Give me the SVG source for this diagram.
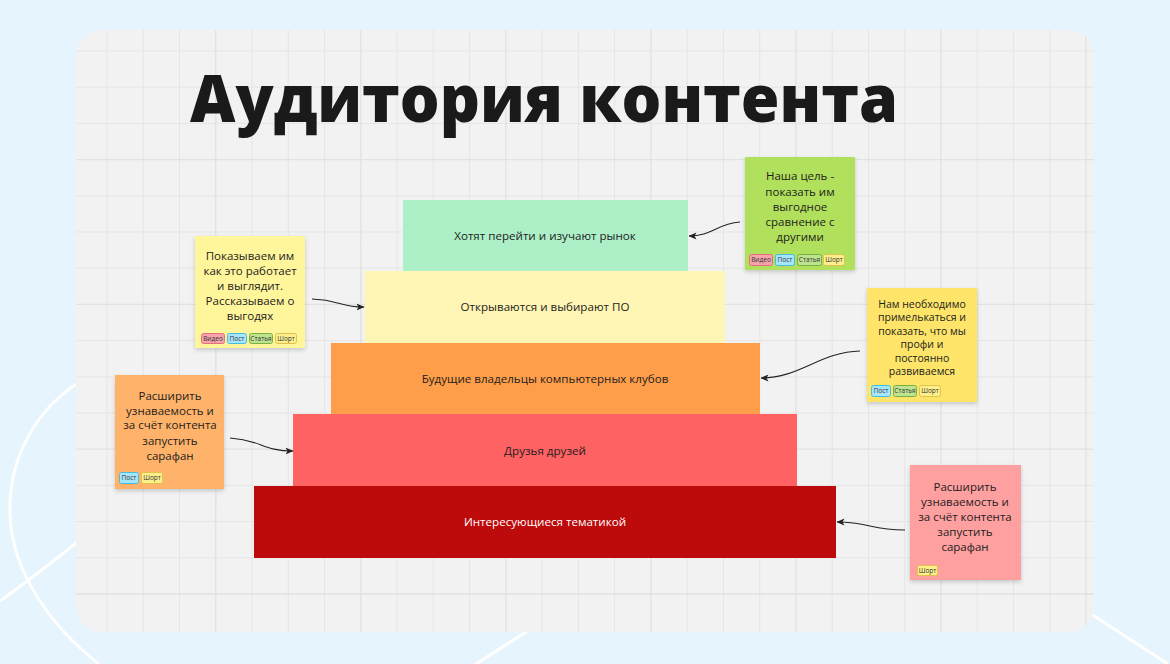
<svg xmlns="http://www.w3.org/2000/svg" width="1170" height="664" viewBox="0 0 1170 664">
<defs>
<style>
.grid{stroke:#e5e5e5;stroke-width:1;fill:none}
.gridb{stroke:#e1e1e1;stroke-width:1.3;fill:none}
.deco{stroke:#ffffff;stroke-width:3;fill:none}
.bar-t{font-family:"Open Sans","Noto Sans","Liberation Sans",sans-serif;font-size:11.6px;fill:#1d1d1d;text-anchor:middle}
.note-t{font-family:"Open Sans","Noto Sans","Liberation Sans",sans-serif;font-size:11.5px;fill:#1d1d1d;text-anchor:middle}
.note-s{font-family:"Open Sans","Noto Sans","Liberation Sans",sans-serif;font-size:10.5px;fill:#1d1d1d;text-anchor:middle}
.tag-t{font-family:"Open Sans","Noto Sans","Liberation Sans",sans-serif;font-size:6.5px;fill:#333;text-anchor:middle}
.t-video{fill:#f7a3ab;stroke:#e0707c;stroke-width:1}
.t-post{fill:#a6e6fa;stroke:#45bde3;stroke-width:1}
.t-stat{fill:#bde38f;stroke:#78b044;stroke-width:1}
.t-short{fill:#fdf08c;stroke:#e0c24a;stroke-width:1}
.conn{stroke:#222;stroke-width:1.1;fill:none}
</style>
<clipPath id="boardClip"><rect x="76" y="30" width="1018" height="602" rx="25"/></clipPath>
<filter id="sh" x="-10%" y="-10%" width="130%" height="130%"><feDropShadow dx="0" dy="2" stdDeviation="2" flood-color="#000" flood-opacity="0.18"/></filter>
<marker id="arr" viewBox="0 0 8 8" refX="7.5" refY="4" markerWidth="8" markerHeight="8" markerUnits="userSpaceOnUse" orient="auto">
<path d="M0,0.5 L8,4 L0,7.5 L2,4 Z" fill="#222"/>
</marker>
</defs>
<rect x="0" y="0" width="1170" height="664" fill="#e6f4fd"/>
<g id="decor">
<path class="deco" d="M90,376 C35,405 8,460 10,515 C12,575 55,630 99,664"/>
<path class="deco" d="M0,601 C30,580 55,560 90,532"/>
<path class="deco" d="M532,628 L476,664"/>
<path class="deco" d="M1085,610 L1168,664"/>
</g>
<g id="board">
<rect x="76" y="30" width="1018" height="602" rx="25" fill="#f2f2f2"/>
<g clip-path="url(#boardClip)">
<path class="grid" d="M107,30V632M143.3,30V632M179.5,30V632M252,30V632M288.3,30V632M324.6,30V632M397.1,30V632M433.3,30V632M469.6,30V632M542.1,30V632M578.4,30V632M614.6,30V632M687.2,30V632M723.4,30V632M759.7,30V632M832.2,30V632M868.5,30V632M904.7,30V632M977.2,30V632M1013.5,30V632M1049.8,30V632"/>
<path class="grid" d="M76,51H1094M76,87.2H1094M76,123.4H1094M76,195.8H1094M76,232H1094M76,268.2H1094M76,340.6H1094M76,376.8H1094M76,413H1094M76,485.4H1094M76,521.6H1094M76,557.8H1094"/>
<path class="gridb" d="M215.8,30V632M360.8,30V632M505.9,30V632M650.9,30V632M795.9,30V632M941,30V632M1086,30V632M76,159.6H1094M76,304.4H1094M76,449.2H1094M76,594H1094"/>
</g>
</g>
<text id="title" x="190" y="122" font-family="'Open Sans','Noto Sans','Liberation Sans',sans-serif" font-size="66" font-weight="800" fill="#1a1a1a" textLength="708" lengthAdjust="spacingAndGlyphs">Аудитория контента</text>
<g id="level1"><rect x="403" y="200" width="285" height="71" fill="#adf0c7"/><text class="bar-t" x="545" y="240">Хотят перейти и изучают рынок</text></g>
<g id="level2"><rect x="365" y="271" width="360" height="72" fill="#fff5b4"/><text class="bar-t" x="545" y="311">Открываются и выбирают ПО</text></g>
<g id="level3"><rect x="331" y="343" width="429" height="71" fill="#ff9e4a"/><text class="bar-t" x="545" y="383">Будущие владельцы компьютерных клубов</text></g>
<g id="level4"><rect x="293" y="414" width="504" height="72" fill="#fe6262"/><text class="bar-t" x="545" y="455">Друзья друзей</text></g>
<g id="level5"><rect x="254" y="486" width="582" height="72" fill="#bd0a0b"/><text class="bar-t" x="545" y="526" style="fill:#ffffff">Интересующиеся тематикой</text></g>
<g id="note-green">
<rect x="745" y="157" width="110" height="113" fill="#b1e05b" filter="url(#sh)"/>
<text class="note-t" x="800" y="180">Наша цель -</text>
<text class="note-t" x="800" y="196">показать им</text>
<text class="note-t" x="800" y="211">выгодное</text>
<text class="note-t" x="800" y="226">сравнение с</text>
<text class="note-t" x="800" y="241">другими</text>
<rect class="t-video" x="749.5" y="254.5" width="23" height="11" rx="2"/><text class="tag-t" x="761" y="262.3">Видео</text>
<rect class="t-post" x="775.5" y="254.5" width="19" height="11" rx="2"/><text class="tag-t" x="785" y="262.3">Пост</text>
<rect class="t-stat" x="797.5" y="254.5" width="24" height="11" rx="2"/><text class="tag-t" x="809.5" y="262.3">Статья</text>
<rect class="t-short" x="823.5" y="254.5" width="21" height="11" rx="2"/><text class="tag-t" x="834" y="262.3">Шорт</text>
</g>
<g id="note-yellow-left">
<rect x="195" y="236" width="110" height="112" fill="#fff59b" filter="url(#sh)"/>
<text class="note-t" x="250" y="260">Показываем им</text>
<text class="note-t" x="250" y="275">как это работает</text>
<text class="note-t" x="250" y="290">и выглядит.</text>
<text class="note-t" x="250" y="305">Рассказываем о</text>
<text class="note-t" x="250" y="320">выгодях</text>
<rect class="t-video" x="201.5" y="333.5" width="23" height="10" rx="2"/><text class="tag-t" x="213" y="340.8">Видео</text>
<rect class="t-post" x="227.5" y="333.5" width="19" height="10" rx="2"/><text class="tag-t" x="237" y="340.8">Пост</text>
<rect class="t-stat" x="249.5" y="333.5" width="23" height="10" rx="2"/><text class="tag-t" x="261" y="340.8">Статья</text>
<rect class="t-short" x="275.5" y="333.5" width="21" height="10" rx="2"/><text class="tag-t" x="286" y="340.8">Шорт</text>
</g>
<g id="note-yellow-right">
<rect x="867" y="288" width="110" height="114" fill="#fee56a" filter="url(#sh)"/>
<text class="note-s" x="922" y="307.7">Нам необходимо</text>
<text class="note-s" x="922" y="321.2">примелькаться и</text>
<text class="note-s" x="922" y="334.7">показать, что мы</text>
<text class="note-s" x="922" y="348.2">профи и</text>
<text class="note-s" x="922" y="361.7">постоянно</text>
<text class="note-s" x="922" y="375.2">развиваемся</text>
<rect class="t-post" x="871.5" y="385.5" width="19" height="11" rx="2"/><text class="tag-t" x="881" y="393.3">Пост</text>
<rect class="t-stat" x="893.5" y="385.5" width="23" height="11" rx="2"/><text class="tag-t" x="905" y="393.3">Статья</text>
<rect class="t-short" x="919.5" y="385.5" width="21" height="11" rx="2"/><text class="tag-t" x="930" y="393.3">Шорт</text>
</g>
<g id="note-orange">
<rect x="115" y="375" width="109" height="114" fill="#ffb36b" filter="url(#sh)"/>
<text class="note-t" x="170" y="399.5">Расширить</text>
<text class="note-t" x="170" y="414.5">узнаваемость и</text>
<text class="note-t" x="170" y="429">за счёт контента</text>
<text class="note-t" x="170" y="444.5">запустить</text>
<text class="note-t" x="170" y="459.5">сарафан</text>
<rect class="t-post" x="119.5" y="472.5" width="19" height="11" rx="2"/><text class="tag-t" x="129" y="480.3">Пост</text>
<rect class="t-short" x="141.5" y="472.5" width="21" height="11" rx="2"/><text class="tag-t" x="152" y="480.3">Шорт</text>
</g>
<g id="note-pink">
<rect x="910" y="465" width="111" height="115" fill="#ffa0a0" filter="url(#sh)"/>
<text class="note-t" x="965" y="490.5">Расширить</text>
<text class="note-t" x="965" y="506">узнаваемость и</text>
<text class="note-t" x="965" y="520.5">за счёт контента</text>
<text class="note-t" x="965" y="536">запустить</text>
<text class="note-t" x="965" y="551">сарафан</text>
<rect class="t-short" x="917.5" y="565.5" width="20" height="10" rx="2"/><text class="tag-t" x="927.5" y="572.8">Шорт</text>
</g>
<g id="connectors">
<path class="conn" marker-end="url(#arr)" d="M740,222 C716,224 712,236 689,236"/>
<path class="conn" marker-end="url(#arr)" d="M312,299 C340,300 340,307 364,307"/>
<path class="conn" marker-end="url(#arr)" d="M860,351 C820,352 800,378 761,378"/>
<path class="conn" marker-end="url(#arr)" d="M230,438 C262,440 262,451 293,451"/>
<path class="conn" marker-end="url(#arr)" d="M905,530 C870,530 870,522 837,522"/>
</g>
</svg>
